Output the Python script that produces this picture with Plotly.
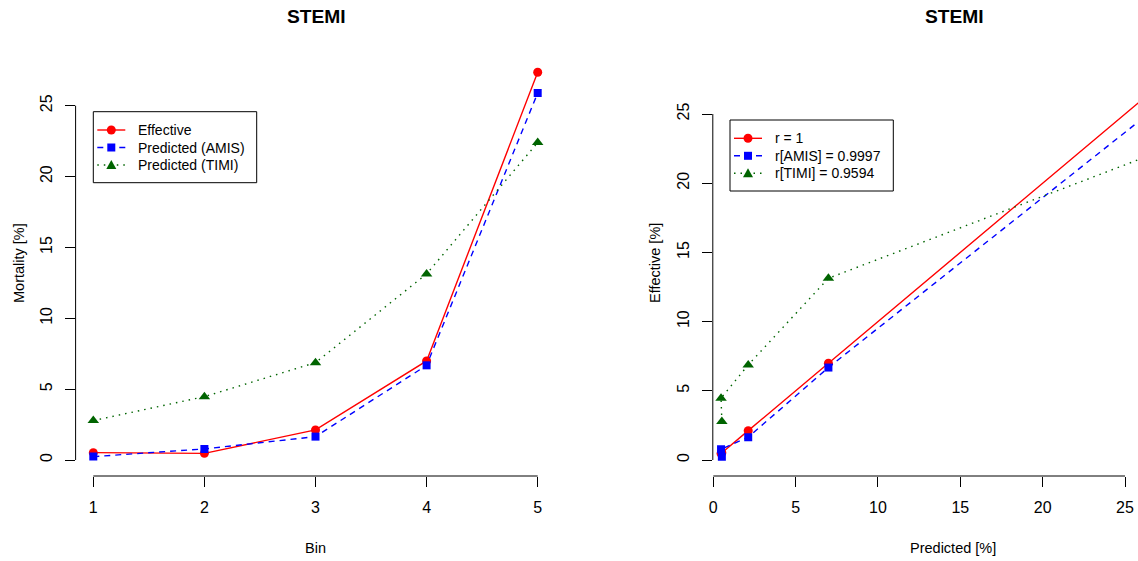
import plotly.graph_objects as go

# ---- data ----
bins = [1, 2, 3, 4, 5]
effective = [0.52, 0.47, 2.12, 6.99, 27.36]
pred_amis = [0.24, 0.78, 1.65, 6.68, 25.9]
pred_timi = [2.78, 4.47, 6.87, 13.13, 22.4]
left_names = ["Effective", "Predicted (AMIS)", "Predicted (TIMI)"]
right_names = ["r = 1", "r[AMIS] = 0.9997", "r[TIMI] = 0.9594"]
x_ticks_left = [1, 2, 3, 4, 5]
y_ticks = [0, 5, 10, 15, 20, 25]
x_ticks_right = [0, 5, 10, 15, 20, 25]

W, H = 1138, 561
FONT = "Liberation Sans, Arial, Helvetica, sans-serif"
RED, BLUE, GREEN = "#FF0000", "#0000FF", "#006400"


def px(x):
    return x / W


def py(y):
    return 1 - y / H


styles = [
    dict(color=RED, dash="solid", symbol="circle", size=9),
    dict(color=BLUE, dash="6px,5px", symbol="square", size=8),
    dict(color=GREEN, dash="1.5px,5px", symbol="triangle-up", size=10),
]

fig = go.Figure()

left_series = [effective, pred_amis, pred_timi]
for name, ys, st in zip(left_names, left_series, styles):
    fig.add_trace(go.Scatter(
        x=bins, y=ys, mode="lines+markers", name=name, showlegend=False,
        line=dict(color=st["color"], width=1.4, dash=st["dash"]),
        marker=dict(color=st["color"], symbol=st["symbol"], size=st["size"]),
        xaxis="x", yaxis="y", cliponaxis=True,
    ))

right_series = [effective, pred_amis, pred_timi]
for name, ys, st in zip(right_names, right_series, styles):
    fig.add_trace(go.Scatter(
        x=effective, y=ys, mode="lines+markers", name=name, showlegend=False,
        line=dict(color=st["color"], width=1.4, dash=st["dash"]),
        marker=dict(color=st["color"], symbol=st["symbol"], size=st["size"]),
        xaxis="x2", yaxis="y2", cliponaxis=True,
    ))

# plot regions in pixels
L_x0, L_x1 = 75.6, 555.5
R_x0, R_x1 = 712.8, 1138.0
Y_bot, Y_top = 476.0, 45.0

lx_unit = (537.7 - 93.3) / 4
ly_unit = (460 - 105.7) / 25
rx_unit = (1125 - 713.3) / 25
ry_unit = (460 - 114) / 25

tick_font = dict(family=FONT, size=16, color="black")
common_ax = dict(showgrid=False, zeroline=False, showline=False, ticks="outside",
                 ticklen=10, tickwidth=1, tickcolor="black", tickfont=tick_font,
                 fixedrange=True, automargin=False)

fig.update_layout(
    width=W, height=H,
    margin=dict(l=0, r=0, t=0, b=0, pad=0, autoexpand=False),
    paper_bgcolor="white", plot_bgcolor="white",
    font=dict(family=FONT, color="black"),
    showlegend=False,
    xaxis=dict(domain=[px(L_x0), px(L_x1)], anchor="y",
               range=[1 - (93.3 - L_x0) / lx_unit, 5 + (L_x1 - 537.7) / lx_unit],
               tickvals=x_ticks_left, ticklabelstandoff=7, **common_ax),
    yaxis=dict(domain=[py(Y_bot), py(Y_top)], anchor="x",
               range=[-(Y_bot - 460) / ly_unit, (460 - Y_top) / ly_unit],
               tickvals=y_ticks, tickangle=-90, ticklabelstandoff=6, **common_ax),
    xaxis2=dict(domain=[px(R_x0), 1.0], anchor="y2",
                range=[(R_x0 - 713.3) / rx_unit, (R_x1 - 713.3) / rx_unit],
                tickvals=x_ticks_right, ticklabelstandoff=7, **common_ax),
    yaxis2=dict(domain=[py(Y_bot), py(Y_top)], anchor="x2",
                range=[-(Y_bot - 460) / ry_unit, (460 - Y_top) / ry_unit],
                tickvals=y_ticks, tickangle=-90, ticklabelstandoff=6, **common_ax),
)

# R-style axis lines spanning first to last tick
line = dict(color="black", width=1)
fig.add_shape(type="line", xref="x", yref="y domain", x0=x_ticks_left[0], x1=x_ticks_left[-1], y0=0, y1=0, line=line)
fig.add_shape(type="line", xref="x domain", yref="y", x0=0, x1=0, y0=y_ticks[0], y1=y_ticks[-1], line=line)
fig.add_shape(type="line", xref="x2", yref="y2 domain", x0=x_ticks_right[0], x1=x_ticks_right[-1], y0=0, y1=0, line=line)
fig.add_shape(type="line", xref="x2 domain", yref="y2", x0=0, x1=0, y0=y_ticks[0], y1=y_ticks[-1], line=line)


def ann(text, x, y, size, bold=False, angle=0, xanchor="center"):
    fig.add_annotation(text=f"<b>{text}</b>" if bold else text, x=px(x), y=py(y),
                       xref="paper", yref="paper", showarrow=False, textangle=angle,
                       xanchor=xanchor, yanchor="middle",
                       font=dict(family=FONT, size=size, color="black"))


# R-style legends (box, line sample, symbol, label)
def legend(box_x0, box_y0, box_x1, names):
    row0, step = box_y0 + 18.3, 17.5
    box_y1 = row0 + 2 * step + 17.7
    fig.add_shape(type="rect", xref="paper", yref="paper",
                  x0=px(box_x0), x1=px(box_x1), y0=py(box_y0), y1=py(box_y1),
                  line=dict(color="black", width=1), fillcolor="rgba(0,0,0,0)", layer="above")
    lx0, lx1 = box_x0 + 4, box_x0 + 32
    mx = (lx0 + lx1) / 2
    for i, (name, st) in enumerate(zip(names, styles)):
        ry = row0 + i * step
        fig.add_shape(type="line", xref="paper", yref="paper",
                      x0=px(lx0), x1=px(lx1), y0=py(ry), y1=py(ry),
                      line=dict(color=st["color"], width=1.4, dash=st["dash"]), layer="above")
        c = st["color"]
        if st["symbol"] == "circle":
            r = 4.5
            fig.add_shape(type="circle", xref="paper", yref="paper",
                          x0=px(mx - r), x1=px(mx + r), y0=py(ry - r), y1=py(ry + r),
                          fillcolor=c, line=dict(color=c, width=0), layer="above")
        elif st["symbol"] == "square":
            r = 4
            fig.add_shape(type="rect", xref="paper", yref="paper",
                          x0=px(mx - r), x1=px(mx + r), y0=py(ry - r), y1=py(ry + r),
                          fillcolor=c, line=dict(color=c, width=0), layer="above")
        else:
            h = 5
            path = (f"M {px(mx - h)} {py(ry + h * 0.8)} L {px(mx + h)} {py(ry + h * 0.8)} "
                    f"L {px(mx)} {py(ry - h)} Z")
            fig.add_shape(type="path", xref="paper", yref="paper", path=path,
                          fillcolor=c, line=dict(color=c, width=0), layer="above")
        ann(name, box_x0 + 43, ry, 14, xanchor="left")


legend(93.3, 111.7, 256.7, left_names)
legend(730, 120, 893.3, right_names)

# titles and axis labels
ann("STEMI", 316.5, 17, 19.2, bold=True)
ann("STEMI", 954.5, 17, 19.2, bold=True)
ann("Bin", 315.5, 548, 14.5)
ann("Predicted [%]", 952.5, 548, 14.5)
ann("Mortality [%]", 19, 263, 14.5, angle=-90)
ann("Effective [%]", 655, 263, 14.5, angle=-90)

fig.write_html("out.html", config={"displayModeBar": False})
